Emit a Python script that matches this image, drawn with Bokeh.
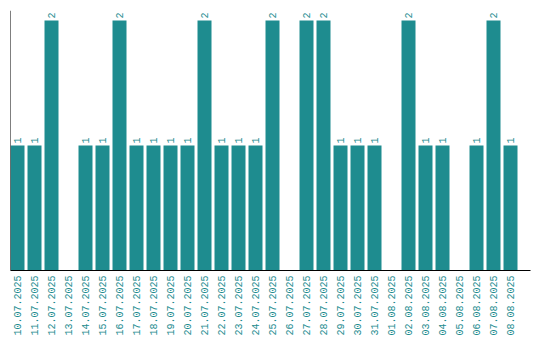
import math
from bokeh.plotting import figure
from bokeh.models import ColumnDataSource, Range1d, Span, FixedTicker
from bokeh.core.properties import value
from bokeh.embed import file_html
from bokeh.resources import INLINE

dates = ["10.07.2025", "11.07.2025", "12.07.2025", "13.07.2025", "14.07.2025",
         "15.07.2025", "16.07.2025", "17.07.2025", "18.07.2025", "19.07.2025",
         "20.07.2025", "21.07.2025", "22.07.2025", "23.07.2025", "24.07.2025",
         "25.07.2025", "26.07.2025", "27.07.2025", "28.07.2025", "29.07.2025",
         "30.07.2025", "31.07.2025", "01.08.2025", "02.08.2025", "03.08.2025",
         "04.08.2025", "05.08.2025", "06.08.2025", "07.08.2025", "08.08.2025"]
counts = [1, 1, 2, 0, 1, 1, 2, 1, 1, 1,
          1, 2, 1, 1, 1, 2, 0, 2, 2, 1,
          1, 1, 0, 2, 1, 1, 0, 1, 2, 1]

TEAL = "#1e8c8f"
FONT = "Liberation Mono"

xpos = [i + 0.5 for i in range(len(dates))]
lab_x = [x for x, c in zip(xpos, counts) if c > 0]
lab_counts = [c for c in counts if c > 0]
lab_text = [str(c) for c in lab_counts]

src = ColumnDataSource(dict(x=xpos, top=counts))
lab = ColumnDataSource(dict(x=lab_x, y=lab_counts, t=lab_text))

p = figure(frame_width=520, frame_height=260,
           x_range=Range1d(0.088, 0.088 + 520 / 17),
           y_range=Range1d(0, 2.08), output_backend="svg", toolbar_location=None,
           min_border_left=10, min_border_right=2, min_border_top=10, min_border_bottom=0)

p.vbar(x="x", top="top", width=14 / 17, source=src, fill_color=TEAL, line_color=None)
p.text(x="x", y="y", text="t", source=lab, angle=math.pi / 2, text_align="left",
       text_baseline="middle", y_offset=-2, text_color=TEAL,
       text_font=value(FONT), text_font_size="10px")

p.yaxis.visible = False
p.add_layout(Span(location=0.088, dimension="height", line_color="black", line_width=1))

p.xgrid.grid_line_color = None
p.ygrid.grid_line_color = None
p.outline_line_color = None
p.xaxis.ticker = FixedTicker(ticks=xpos)
p.xaxis.major_label_overrides = {x: d for x, d in zip(xpos, dates)}
p.xaxis.axis_line_color = "black"
p.xaxis.major_tick_line_color = None
p.xaxis.minor_tick_line_color = None
p.xaxis.major_tick_out = 0
p.xaxis.major_tick_in = 0
p.xaxis.minor_tick_out = 0
p.xaxis.minor_tick_in = 0
p.xaxis.major_label_orientation = math.pi / 2
p.xaxis.major_label_text_color = TEAL
p.xaxis.major_label_text_font = FONT
p.xaxis.major_label_text_font_size = "10px"
p.xaxis.major_label_standoff = 5

open("out.html", "w").write(file_html(p, INLINE))
